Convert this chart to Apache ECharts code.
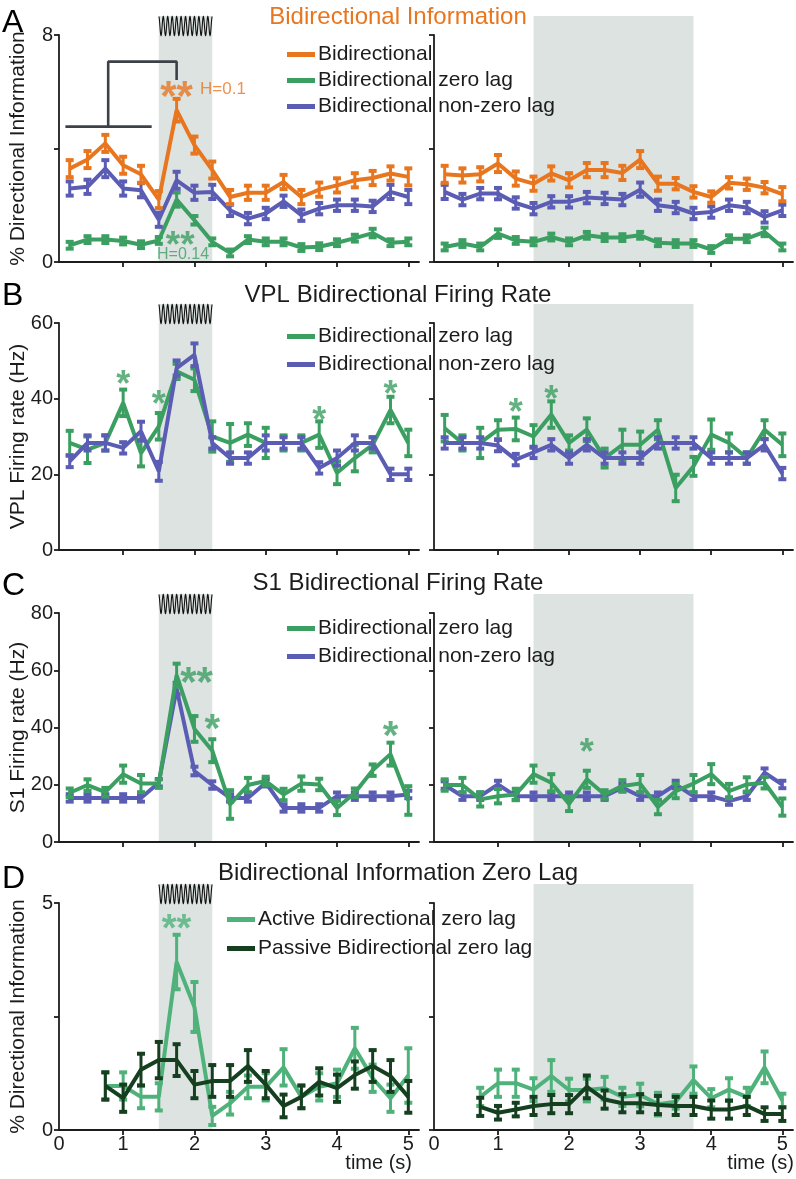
<!DOCTYPE html>
<html><head><meta charset="utf-8">
<script src="https://cdn.jsdelivr.net/npm/echarts@6/dist/echarts.min.js"></script>
<style>html,body{margin:0;padding:0;background:#fff}#c{width:796px;height:1179px}</style>
</head><body><div id="c"></div>
<script>
// ---------- DATA ----------
const TIMES = [0.25,0.5,0.75,1,1.25,1.5,1.75,2,2.25,2.5,2.75,3,3.25,3.5,3.75,4,4.25,4.5,4.75,5];
const TIMES_D = [0.75,1,1.25,1.5,1.75,2,2.25,2.5,2.75,3,3.25,3.5,3.75,4,4.25,4.5,4.75,5];
const X_TICKS = [1,2,3,4,5];
const X_LABELS = [0,1,2,3,4,5];

// A: Bidirectional Information (%)
const aL_bi      = [3.29,3.61,4.18,3.41,3.09,2.2,5.35,4.12,3.24,2.29,2.44,2.44,2.82,2.29,2.55,2.7,2.88,2.96,3.12,3.0];
const aL_biErr   = [0.3,0.3,0.3,0.3,0.3,0.3,0.4,0.3,0.3,0.25,0.25,0.25,0.25,0.25,0.25,0.25,0.25,0.25,0.25,0.3];
const aL_zero    = [0.59,0.79,0.79,0.74,0.61,0.76,2.2,1.47,0.71,0.32,0.79,0.71,0.71,0.51,0.54,0.68,0.84,1.02,0.68,0.71];
const aL_zeroErr = [0.12,0.12,0.12,0.12,0.12,0.12,0.25,0.15,0.12,0.12,0.12,0.12,0.12,0.12,0.12,0.12,0.12,0.15,0.12,0.12];
const aL_non     = [2.59,2.65,3.29,2.59,2.53,1.49,2.88,2.44,2.47,1.82,1.53,1.71,2.14,1.65,1.88,2.0,2.0,1.96,2.47,2.29];
const aL_nonErr  = [0.25,0.25,0.3,0.25,0.25,0.25,0.3,0.25,0.25,0.2,0.2,0.2,0.2,0.2,0.2,0.2,0.2,0.2,0.25,0.25];
const aR_bi      = [3.09,3.05,3.09,3.47,2.94,2.76,3.12,2.88,3.24,3.24,3.14,3.61,2.76,2.76,2.47,2.29,2.79,2.74,2.62,2.39];
const aR_biErr   = [0.3,0.25,0.25,0.3,0.25,0.25,0.25,0.25,0.25,0.25,0.25,0.3,0.25,0.2,0.2,0.2,0.2,0.2,0.2,0.25];
const aR_zero    = [0.53,0.65,0.53,1.0,0.76,0.71,0.88,0.71,0.94,0.86,0.86,0.94,0.68,0.65,0.65,0.44,0.82,0.82,1.06,0.53];
const aR_zeroErr = [0.12,0.12,0.12,0.15,0.12,0.12,0.12,0.12,0.12,0.12,0.12,0.12,0.12,0.12,0.12,0.12,0.12,0.12,0.15,0.12];
const aR_non     = [2.47,2.2,2.41,2.41,2.08,1.88,2.12,2.12,2.27,2.24,2.2,2.55,2.0,1.92,1.71,1.76,2.0,1.92,1.59,1.82];
const aR_nonErr  = [0.25,0.2,0.2,0.2,0.2,0.2,0.2,0.2,0.2,0.2,0.2,0.25,0.2,0.2,0.2,0.2,0.2,0.2,0.2,0.2];

// B: VPL firing rate (Hz)
const bL_zero    = [28.3,26.5,28.3,38.9,25.6,32.7,47.2,45,30,28.3,30.5,28.3,28.3,28.3,30.5,20.4,24.3,27.8,37,28.3];
const bL_zeroErr = [3.2,3.5,2,3.5,3.5,3.5,2,3,4,5,3,4,2,2,3.5,3,3.5,2,3.5,3.5];
const bL_non     = [23.4,28.3,28.3,27,31.4,20.8,48.1,51.6,28.3,24.3,24.3,28.3,28.3,28.3,21.7,24.3,28.3,28.3,20,20];
const bL_nonErr  = [1.5,2,2,1.5,2.5,2.5,2,3,1.5,1.5,1.5,2,1.5,1.5,1.5,2,2,1.5,1.5,1.5];
const bR_zero    = [32.2,28.3,28.3,31.8,32,30,35.8,28.3,31.8,24.3,27.8,27.8,31.8,16.4,22.1,30.5,28.3,24.3,31.8,27.8];
const bR_zeroErr = [3.5,2,4,2.5,3,3,3.5,2,3,2.5,4,3.5,2.5,3.5,2.5,4,2.5,1.5,2.5,3];
const bR_non     = [28.3,28.3,28.3,27.6,23.9,25.8,27.8,24.3,27.8,24.3,24.3,24.3,28.3,28.3,28.3,24.3,24.3,24.3,27.8,20.2];
const bR_nonErr  = [1.5,1.5,1.5,1.5,1.5,1.5,1.5,1.5,1.5,1.5,1.5,1.5,1.5,1.5,1.5,1.5,1.5,1.5,1.5,1.5];

// C: S1 firing rate (Hz)
const cL_zero    = [17.2,19.9,17.4,23.7,20.4,20.4,58.3,39.5,31.9,13.1,19.9,21.3,16.6,20.4,20.1,11.9,17.2,25.1,30.7,14.5];
const cL_zeroErr = [1.5,2,1.5,3,3,1.5,4,4.5,4,5,2.5,1.5,2,2.5,2,2.5,1.5,2,4,5];
const cL_non     = [15.4,15.4,15.4,15.4,15.4,20.7,53.6,24.8,19.9,15.4,15.4,20.7,11.9,11.9,11.9,16,16,16,16,16.6];
const cL_nonErr  = [1.3,1.3,1.3,1.3,1.3,1.3,2,1.5,1.3,1.3,1.3,1.3,1.3,1.3,1.3,1.3,1.3,1.3,1.3,1.3];
const cR_zero    = [19.9,19.9,14.9,16,16.6,23.7,20.7,13.3,21.9,16.6,19.6,20.4,12.2,17.8,20.4,23.7,17.8,20.1,20.7,12.2];
const cR_zeroErr = [2,2.5,2.5,2.5,2,3,3,2.5,3,1.5,2,3,2.5,2.5,3,3.5,2.5,2.5,2,3];
const cR_non     = [19.9,16,16,20.1,16,16,16,16,16,16,19,16,16,20.1,16,16,14.3,16,24.2,20.1];
const cR_nonErr  = [1.3,1.3,1.3,1.3,1.3,1.3,1.3,1.3,1.3,1.3,1.3,1.3,1.3,1.3,1.3,1.3,1.3,1.3,1.5,1.3];

// D: Bidirectional information zero lag (%)
const dL_act    = [0.97,0.97,0.73,0.73,3.70,2.71,0.31,0.59,0.95,0.95,1.38,0.73,0.95,1.03,1.8,1.14,0.70,1.2];
const dL_actErr = [0.3,0.3,0.25,0.3,0.6,0.55,0.2,0.25,0.25,0.3,0.4,0.25,0.3,0.3,0.45,0.3,0.3,0.6];
const dL_pas    = [0.97,0.70,1.33,1.54,1.54,1.0,1.08,1.08,1.41,1.0,0.53,0.73,1.06,0.92,1.21,1.41,1.19,0.73];
const dL_pasErr = [0.3,0.3,0.35,0.4,0.35,0.3,0.35,0.35,0.35,0.3,0.25,0.25,0.3,0.3,0.3,0.35,0.35,0.35];
const dR_act    = [0.73,1.03,1.03,0.89,1.19,0.88,0.88,0.92,0.73,0.77,0.57,0.62,1.1,0.7,0.89,0.73,1.38,0.65];
const dR_actErr = [0.2,0.3,0.3,0.25,0.35,0.25,0.25,0.25,0.2,0.25,0.25,0.15,0.3,0.2,0.25,0.2,0.35,0.15];
const dR_pas    = [0.51,0.38,0.45,0.53,0.57,0.57,0.95,0.67,0.59,0.59,0.55,0.53,0.53,0.45,0.45,0.53,0.35,0.35];
const dR_pasErr = [0.2,0.15,0.15,0.2,0.2,0.2,0.25,0.2,0.2,0.2,0.2,0.2,0.2,0.2,0.2,0.2,0.15,0.15];

// shaded windows (s)
const WIN_LEFT = [1.5, 2.25];
const WIN_RIGHT = [1.5, 3.75];

// ---------- STYLE ----------
const ORANGE = '#e8761f', GREEN = '#3c9f62', BLUE = '#5b5db4';
const ACTIVE = '#4fb27a', PASSIVE = '#153f1f', SHADE = '#dce3e1';
const INK = '#1c1c1c';
const FONT = 'Liberation Sans, Arial, Helvetica, sans-serif';

const ROWS = [
  {top:35, h:227, max:8, ticks:[0,4,8], labels:[0,8], name:'% Directional Information'},
  {top:323, h:227, max:60, ticks:[0,20,40,60], labels:[0,20,40,60], name:'VPL Firing rate (Hz)'},
  {top:613, h:229, max:80, ticks:[0,20,40,60,80], labels:[0,20,40,60,80], name:'S1 Firing rate (Hz)'},
  {top:903, h:227, max:5, ticks:[0,2.5,5], labels:[0,5], name:'% Directional Information'}
];
const COLS = [{left:59, w:360}, {left:434, w:359}];
const XMIN = 0.1, XMAX = 5.15;

const grid = [], xAxis = [], yAxis = [], series = [];
ROWS.forEach((r, ri) => {
  COLS.forEach((c, ci) => {
    const gi = ri*2 + ci;
    grid.push({left:c.left, top:r.top, width:c.w, height:r.h, outerBoundsMode:'none', containLabel:false});
    const last = ri === 3;
    xAxis.push({
      type:'value', gridIndex:gi, min:XMIN, max:XMAX,
      axisLine:{lineStyle:{color:INK, width:1.8}},
      axisTick:{show:true, length:5, customValues:X_TICKS, lineStyle:{color:INK, width:1.8}},
      axisLabel:{show:last, customValues:X_LABELS.map(v => v === 0 ? XMIN : v),
        formatter: v => v < 0.5 ? '0' : String(Math.round(v)),
        fontSize:20, color:INK, fontFamily:FONT, margin:4},
      splitLine:{show:false}
    });
    yAxis.push({
      type:'value', gridIndex:gi, min:0, max:r.max,
      axisLine:{show:true, lineStyle:{color:INK, width:1.8}},
      axisTick:{show:true, length:5, customValues:r.ticks, lineStyle:{color:INK, width:1.8}},
      axisLabel:{show:ci === 0, customValues:r.labels, fontSize:20, color:INK, fontFamily:FONT, margin:6},
      splitLine:{show:false},
      name: ci === 0 ? r.name : '', nameLocation:'middle', nameGap:30, nameMoveOverlap:false,
      nameTextStyle:{fontSize:21, color:INK, fontFamily:FONT}
    });
  });
});

function shadeSeries(gi, win, wave) {
  return {
    type:'custom', xAxisIndex:gi, yAxisIndex:gi, z:0, silent:true, clip:false,
    data:[[win[0], win[1], 0]], encode:{x:[0,1], y:2},
    renderItem(params, api) {
      const a = api.coord([api.value(0), 0]);
      const b = api.coord([api.value(1), 0]);
      const cs = params.coordSys;
      const top = cs.y - 19;
      const children = [{type:'rect', shape:{x:a[0], y:top, width:b[0]-a[0], height:a[1]-top}, style:{fill:SHADE}}];
      if (wave) {
        const pts = [], n = 360, cyc = 12, mid = cs.y - 9, amp = 9.5;
        for (let i = 0; i <= n; i++) {
          pts.push([a[0] + (b[0]-a[0]) * i / n, mid - amp * Math.cos(2 * Math.PI * cyc * i / n)]);
        }
        children.push({type:'polyline', shape:{points:pts}, style:{stroke:'#111', lineWidth:1.1, fill:null}});
      }
      return {type:'group', children};
    }
  };
}
function lineSeries(gi, name, xs, ys, color, z) {
  return {
    type:'line', name, xAxisIndex:gi, yAxisIndex:gi, z, showSymbol:false, symbol:'none',
    data: xs.map((x, i) => [x, ys[i]]),
    lineStyle:{color, width:4}, itemStyle:{color}, silent:true
  };
}
function errSeries(gi, xs, ys, es, color, z) {
  return {
    type:'custom', xAxisIndex:gi, yAxisIndex:gi, z, silent:true,
    data: xs.map((x, i) => [x, ys[i], es[i]]), encode:{x:0, y:1},
    renderItem(params, api) {
      const x = api.value(0), y = api.value(1), e = api.value(2);
      const p1 = api.coord([x, y + e]), p2 = api.coord([x, y - e]);
      const cw = 8, ch = 4;
      return {type:'group', children:[
        {type:'line', shape:{x1:p1[0], y1:p1[1], x2:p2[0], y2:p2[1]}, style:{stroke:color, lineWidth:3}},
        {type:'rect', shape:{x:p1[0]-cw/2, y:p1[1]-ch/2, width:cw, height:ch}, style:{fill:color}},
        {type:'rect', shape:{x:p2[0]-cw/2, y:p2[1]-ch/2, width:cw, height:ch}, style:{fill:color}}
      ]};
    }
  };
}
function addSet(gi, name, xs, ys, es, color, z) {
  series.push(lineSeries(gi, name, xs, ys, color, z));
  series.push(errSeries(gi, xs, ys, es, color, z + 0.5));
}
function annot(gi, items) {
  series.push({
    type:'scatter', xAxisIndex:gi, yAxisIndex:gi, symbolSize:0, silent:true, z:20,
    data: items.map(a => {
      const star = a.t.indexOf('*') === 0;
      return {value:[a.x, a.y], label:{show:true, position:'inside', formatter:a.t,
        color:a.c, fontSize:a.s, fontWeight: star ? 'bold' : 'normal', fontFamily:FONT,
        offset:[0, star ? a.s*0.22 : 0]}};
    })
  });
}

// shades
series.push(shadeSeries(0, WIN_LEFT, true), shadeSeries(1, WIN_RIGHT, false));
series.push(shadeSeries(2, WIN_LEFT, true), shadeSeries(3, WIN_RIGHT, false));
series.push(shadeSeries(4, WIN_LEFT, true), shadeSeries(5, WIN_RIGHT, false));
series.push(shadeSeries(6, WIN_LEFT, true), shadeSeries(7, WIN_RIGHT, false));

const N_BI = 'Bidirectional', N_ZERO = 'Bidirectional zero lag', N_NON = 'Bidirectional non-zero lag';
const N_ACT = 'Active Bidirectional zero lag', N_PAS = 'Passive Bidirectional zero lag';

// A
addSet(0, N_ZERO, TIMES, aL_zero, aL_zeroErr, GREEN, 3);
addSet(0, N_NON, TIMES, aL_non, aL_nonErr, BLUE, 4);
addSet(0, N_BI, TIMES, aL_bi, aL_biErr, ORANGE, 5);
addSet(1, N_ZERO, TIMES, aR_zero, aR_zeroErr, GREEN, 3);
addSet(1, N_NON, TIMES, aR_non, aR_nonErr, BLUE, 4);
addSet(1, N_BI, TIMES, aR_bi, aR_biErr, ORANGE, 5);
// bracket in A
series.push({type:'line', xAxisIndex:0, yAxisIndex:0, z:6, showSymbol:false, silent:true,
  data:[[0.19,4.77],[1.40,4.77]], lineStyle:{color:'#3c4147', width:2.6}});
series.push({type:'line', xAxisIndex:0, yAxisIndex:0, z:6, showSymbol:false, silent:true,
  data:[[0.79,4.77],[0.79,7.06],[1.75,7.06],[1.75,6.41]], lineStyle:{color:'#3c4147', width:2.6}});
// B
addSet(2, N_ZERO, TIMES, bL_zero, bL_zeroErr, GREEN, 3);
addSet(2, N_NON, TIMES, bL_non, bL_nonErr, BLUE, 4);
addSet(3, N_ZERO, TIMES, bR_zero, bR_zeroErr, GREEN, 3);
addSet(3, N_NON, TIMES, bR_non, bR_nonErr, BLUE, 4);
// C
addSet(4, N_NON, TIMES, cL_non, cL_nonErr, BLUE, 3);
addSet(4, N_ZERO, TIMES, cL_zero, cL_zeroErr, GREEN, 4);
addSet(5, N_NON, TIMES, cR_non, cR_nonErr, BLUE, 3);
addSet(5, N_ZERO, TIMES, cR_zero, cR_zeroErr, GREEN, 4);
// D
addSet(6, N_ACT, TIMES_D, dL_act, dL_actErr, ACTIVE, 3);
addSet(6, N_PAS, TIMES_D, dL_pas, dL_pasErr, PASSIVE, 4);
addSet(7, N_ACT, TIMES_D, dR_act, dR_actErr, ACTIVE, 3);
addSet(7, N_PAS, TIMES_D, dR_pas, dR_pasErr, PASSIVE, 4);

// annotations (data coordinates)
annot(0, [
  {t:'**', x:1.75, y:6.1, c:ORANGE, s:42},
  {t:'H=0.1', x:2.40, y:6.1, c:ORANGE, s:17},
  {t:'**', x:1.80, y:0.84, c:GREEN, s:37},
  {t:'H=0.14', x:1.84, y:0.25, c:GREEN, s:16}
]);
annot(2, [
  {t:'*', x:1.0, y:45.5, c:GREEN, s:36}, {t:'*', x:1.5, y:40.2, c:GREEN, s:36},
  {t:'*', x:3.75, y:35.8, c:GREEN, s:36}, {t:'*', x:4.75, y:42.8, c:GREEN, s:36}
]);
annot(3, [
  {t:'*', x:1.25, y:38, c:GREEN, s:36}, {t:'*', x:1.75, y:41.5, c:GREEN, s:36}
]);
annot(4, [
  {t:'**', x:2.03, y:58.3, c:GREEN, s:42}, {t:'*', x:2.25, y:41.9, c:GREEN, s:40},
  {t:'*', x:4.75, y:39.5, c:GREEN, s:40}
]);
annot(5, [{t:'*', x:2.25, y:33.6, c:GREEN, s:36}]);
annot(6, [{t:'**', x:1.75, y:4.58, c:ACTIVE, s:38}]);

const legendBase = {orient:'vertical', icon:'rect', itemWidth:28, itemHeight:5, padding:0,
  selectedMode:false, textStyle:{fontSize:21, color:INK, fontFamily:FONT, padding:[0,0,0,-2]}};
const legend = [
  Object.assign({}, legendBase, {data:[N_BI, N_ZERO, N_NON], left:287, top:44, itemGap:5}),
  Object.assign({}, legendBase, {data:[N_ZERO, N_NON], left:287, top:326, itemGap:7}),
  Object.assign({}, legendBase, {data:[N_ZERO, N_NON], left:287, top:618, itemGap:7}),
  Object.assign({}, legendBase, {data:[N_ACT, N_PAS], left:227, top:909, itemGap:8})
];

const tStyle = {fontSize:24, fontWeight:'normal', color:INK, fontFamily:FONT};
const lStyle = {fontSize:32, fontWeight:'normal', color:'#000', fontFamily:FONT};
const xName = {fontSize:20, fontWeight:'normal', color:INK, fontFamily:FONT};
const title = [
  {text:'Bidirectional Information', left:'center', top:5, padding:0, textStyle:Object.assign({}, tStyle, {color:ORANGE})},
  {text:'VPL Bidirectional Firing Rate', left:'center', top:283, padding:0, textStyle:tStyle},
  {text:'S1 Bidirectional Firing Rate', left:'center', top:571, padding:0, textStyle:tStyle},
  {text:'Bidirectional Information Zero Lag', left:'center', top:861, padding:0, textStyle:tStyle},
  {text:'A', left:2, top:7, padding:0, textStyle:lStyle},
  {text:'B', left:2, top:280, padding:0, textStyle:lStyle},
  {text:'C', left:2, top:570, padding:0, textStyle:lStyle},
  {text:'D', left:2, top:863, padding:0, textStyle:lStyle},
  {text:'time (s)', right:384, top:1153, padding:0, textStyle:xName},
  {text:'time (s)', right:2, top:1153, padding:0, textStyle:xName}
];

const chart = echarts.init(document.getElementById('c'), null, {renderer:'canvas'});
chart.setOption({animation:false, backgroundColor:'#fff', title, legend, grid, xAxis, yAxis, series});
</script></body></html>
